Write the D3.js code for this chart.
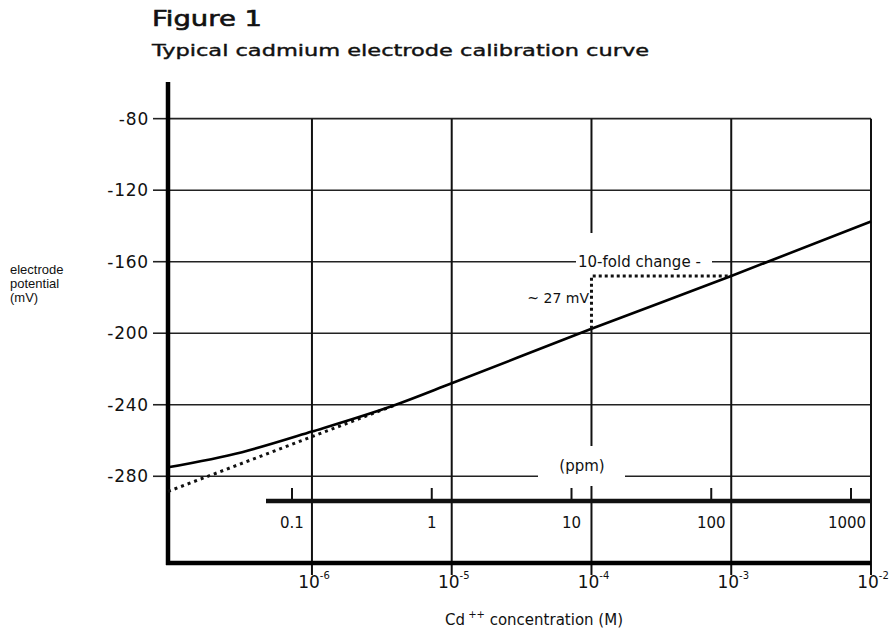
<!DOCTYPE html>
<html>
<head>
<meta charset="utf-8">
<script src="https://cdn.jsdelivr.net/npm/d3@7"></script>
<style>
  body { margin: 0; background: #fff; }
  text { font-family: "DejaVu Sans", "Liberation Sans", Arial, sans-serif; fill: #111; }
</style>
</head>
<body>
<svg id="chart"></svg>
<script>
  // data
  var concTicks = [1e-6, 1e-5, 1e-4, 1e-3, 1e-2];
  var concExp = ["-6", "-5", "-4", "-3", "-2"];
  var mvTicks = [-80, -120, -160, -200, -240, -280];
  var ppmTicks = [0.1, 1, 10, 100, 1000];
  var ppmLabels = ["0.1", "1", "10", "100", "1000"];

  // measured calibration curve (log10 M, mV)
  var curveLogM = [-7.03, -6.5, -6.0, -5.4, -5.0, -4.0, -3.0, -2.0];
  var curveMV = [-275, -266.5, -255, -240, -228, -197.5, -168, -137.5];

  // extrapolated nernstian line (dotted)
  var nernstLogM = [-7.03, -5.4];
  var nernstMV = [-288.5, -240];

  // 10-fold change marker
  var foldFrom = {c: 1e-4, mv: -197.5};
  var foldTo = {c: 1e-3, mv: -168};

  var width = 890, height = 631;

  var svg = d3.select("#chart")
    .attr("width", width)
    .attr("height", height);

  var x = d3.scaleLog()
    .domain([Math.pow(10, -7.03), 1e-2])
    .range([168, 871]);
  var y = d3.scaleLinear()
    .domain([-328.5, -59.5])
    .range([563, 82]);
  var ppm = d3.scaleLog()
    .domain([0.1, 1000])
    .range([292, 851]);

  var x0 = x.range()[0], x1 = x.range()[1];
  var yBottom = y.range()[0], yTop = y.range()[1];

  // titles
  svg.append("text")
    .attr("x", 152).attr("y", 26)
    .attr("textLength", 110).attr("lengthAdjust", "spacingAndGlyphs")
    .style("font-size", "21px")
    .style("stroke", "#111").style("stroke-width", 0.6)
    .text("Figure 1");
  svg.append("text")
    .attr("x", 152).attr("y", 56)
    .attr("textLength", 497).attr("lengthAdjust", "spacingAndGlyphs")
    .style("font-size", "16px")
    .style("stroke", "#111").style("stroke-width", 0.4)
    .text("Typical cadmium electrode calibration curve");

  // horizontal grid, some broken for labels
  var hGaps = {"-160": [576, 712], "-280": [538, 625]};
  mvTicks.forEach(function(v) {
    var segs = [[x0, x1]];
    if (hGaps[v]) segs = [[x0, hGaps[v][0]], [hGaps[v][1], x1]];
    segs.forEach(function(s) {
      svg.append("line")
        .attr("x1", s[0]).attr("x2", s[1])
        .attr("y1", y(v)).attr("y2", y(v))
        .attr("stroke", "#222").attr("stroke-width", 1.6);
    });
    // tick left of axis
    svg.append("line")
      .attr("x1", x0 - 15).attr("x2", x0)
      .attr("y1", y(v)).attr("y2", y(v))
      .attr("stroke", "#222").attr("stroke-width", 1.6);
  });

  // vertical grid
  concTicks.forEach(function(c) {
    var segs = [[y(-80), yBottom + 12]];
    if (c === 1e-4) {
      segs = [[y(-80), 233], [y(foldFrom.mv), 446], [486, yBottom + 12]];
    }
    segs.forEach(function(s) {
      svg.append("line")
        .attr("x1", x(c)).attr("x2", x(c))
        .attr("y1", s[0]).attr("y2", s[1])
        .attr("stroke", "#111").attr("stroke-width", 2);
    });
  });

  // y axis labels
  svg.append("g")
    .selectAll("text")
    .data(mvTicks)
    .join("text")
    .attr("x", x0 - 19)
    .attr("y", function(d) { return y(d) + 6; })
    .attr("text-anchor", "end")
    .style("font-size", "17px")
    .style("letter-spacing", "0.8px")
    .text(function(d) { return "-" + Math.abs(d); });

  svg.append("text")
    .attr("x", 10).attr("y", 274)
    .style("font-family", "Liberation Sans, Arial, sans-serif")
    .style("font-size", "13px")
    .selectAll("tspan")
    .data(["electrode", "potential", "(mV)"])
    .join("tspan")
    .attr("x", 10)
    .attr("dy", function(d, i) { return i === 0 ? 0 : 14; })
    .text(function(d) { return d; });

  // ppm axis
  svg.append("line")
    .attr("x1", 266).attr("x2", x1)
    .attr("y1", 501).attr("y2", 501)
    .attr("stroke", "#111").attr("stroke-width", 4.5);
  ppmTicks.forEach(function(p, i) {
    svg.append("line")
      .attr("x1", ppm(p)).attr("x2", ppm(p))
      .attr("y1", 488).attr("y2", 501)
      .attr("stroke", "#111").attr("stroke-width", 2);
    svg.append("text")
      .attr("x", ppm(p) - (i === 4 ? 4 : 0)).attr("y", 528)
      .attr("text-anchor", "middle")
      .style("font-size", "15px")
      .text(ppmLabels[i]);
  });
  svg.append("text")
    .attr("x", 582).attr("y", 471)
    .attr("text-anchor", "middle")
    .style("font-size", "15px")
    .text("(ppm)");

  // main axes, heavy
  svg.append("line")
    .attr("x1", x0).attr("x2", x0)
    .attr("y1", yTop).attr("y2", yBottom + 2)
    .attr("stroke", "#000").attr("stroke-width", 4.5);
  svg.append("line")
    .attr("x1", x0 - 2).attr("x2", x1)
    .attr("y1", yBottom).attr("y2", yBottom)
    .attr("stroke", "#000").attr("stroke-width", 4.5);

  // x labels
  concTicks.forEach(function(c, i) {
    var t = svg.append("text")
      .attr("x", x(c) + 2).attr("y", 588)
      .attr("text-anchor", "middle")
      .style("font-size", "17px");
    t.append("tspan").text("10");
    t.append("tspan")
      .attr("dy", -9)
      .style("font-size", "10px")
      .text(concExp[i]);
  });

  var xt = svg.append("text")
    .attr("x", 534).attr("y", 625)
    .attr("text-anchor", "middle")
    .style("font-size", "15px");
  xt.append("tspan").text("Cd");
  xt.append("tspan").attr("dy", -7).style("font-size", "10px").text(" ++");
  xt.append("tspan").attr("dy", 7).text("  concentration (M)");

  // curves
  var line = d3.line()
    .x(function(d) { return x(Math.pow(10, d[0])); })
    .y(function(d) { return y(d[1]); });

  svg.append("path")
    .datum(d3.zip(nernstLogM, nernstMV))
    .attr("d", line)
    .attr("fill", "none")
    .attr("stroke", "#111")
    .attr("stroke-width", 3)
    .attr("stroke-dasharray", "3,4");

  svg.append("path")
    .datum(d3.zip(curveLogM, curveMV))
    .attr("d", line.curve(d3.curveMonotoneX))
    .attr("fill", "none")
    .attr("stroke", "#000")
    .attr("stroke-width", 2.6);

  // 10-fold change annotation
  svg.append("path")
    .attr("d", "M" + x(foldFrom.c) + "," + y(foldFrom.mv) +
               "V" + y(foldTo.mv) + "H" + x(foldTo.c))
    .attr("fill", "none")
    .attr("stroke", "#111")
    .attr("stroke-width", 3)
    .attr("stroke-dasharray", "3,3");

  svg.append("text")
    .attr("x", 578).attr("y", 267)
    .style("font-size", "15px")
    .text("10-fold change -");
  svg.append("text")
    .attr("x", 589).attr("y", 303)
    .attr("text-anchor", "end")
    .style("font-size", "14px")
    .text("~ 27 mV");
</script>
</body>
</html>
